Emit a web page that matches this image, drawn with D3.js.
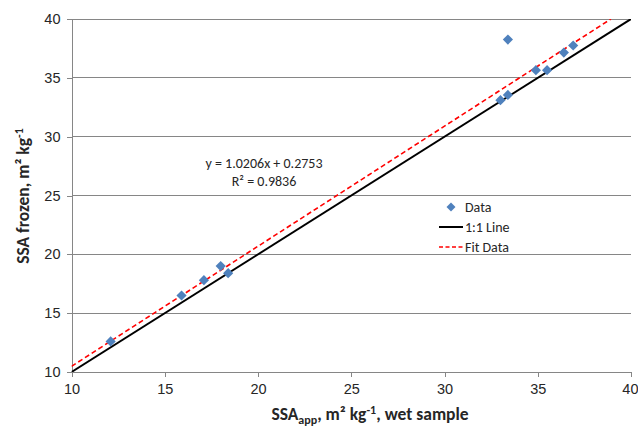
<!DOCTYPE html>
<html><head><meta charset="utf-8">
<script src="https://cdn.jsdelivr.net/npm/d3@7"></script>
<style>body{margin:0;background:#fff}svg{display:block;font-family:Carlito,Lato,"Liberation Sans",sans-serif}</style>
</head><body><svg id="c" width="638" height="426"></svg>
<script>
const dataX = [12.1, 15.9, 17.1, 18.0, 18.4, 33.0, 33.4, 33.4, 34.9, 35.5, 36.4, 36.9];
const dataY = [12.6, 16.5, 17.8, 19.0, 18.4, 33.1, 33.55, 38.25, 35.65, 35.65, 37.15, 37.75];
const xTicks = [10, 15, 20, 25, 30, 35, 40];
const yTicks = [10, 15, 20, 25, 30, 35, 40];
const fitSlope = 1.0206, fitIntercept = 0.2753, fitR2 = 0.9836;
const legendLabels = ["Data", "1:1 Line", "Fit Data"];

const svg = d3.select("#c");
const x = d3.scaleLinear().domain([10, 40]).range([71.5, 631]);
const y = d3.scaleLinear().domain([10, 40]).range([372, 19]);
const grey = "#868686", txt = "#262626";

// gridlines
svg.append("g").selectAll("line").data(yTicks.slice(1)).join("line")
  .attr("x1", x(10)).attr("x2", x(40)).attr("y1", d => y(d)).attr("y2", d => y(d))
  .attr("stroke", grey).attr("stroke-width", 1).attr("shape-rendering", "crispEdges");

// axes
const xa = svg.append("g").attr("transform", `translate(0,${y(10)})`)
  .call(d3.axisBottom(x).tickValues(xTicks).tickSize(5).tickPadding(7));
const ya = svg.append("g").attr("transform", `translate(${x(10)},0)`)
  .call(d3.axisLeft(y).tickValues(yTicks).tickSize(5).tickPadding(6));
[xa, ya].forEach(a => {
  a.select(".domain").attr("stroke", grey).attr("shape-rendering", "crispEdges");
  a.selectAll(".tick line").attr("stroke", grey).attr("shape-rendering", "crispEdges");
  a.selectAll("text").attr("fill", txt).style("font-size", "14.5px");
});
xa.selectAll(".tick text").filter(d => d === 40).attr("text-anchor", "end").attr("dx", "7");

const clip = svg.append("clipPath").attr("id", "pa").append("rect")
  .attr("x", x(10)).attr("y", y(40)).attr("width", x(40) - x(10)).attr("height", y(10) - y(40));
const plot = svg.append("g").attr("clip-path", "url(#pa)");

// 1:1 line
plot.append("line").attr("x1", x(10)).attr("y1", y(10)).attr("x2", x(40)).attr("y2", y(40))
  .attr("stroke", "#000").attr("stroke-width", 2);
// fit line
const xEnd = (40 - fitIntercept) / fitSlope;
plot.append("line").attr("x1", x(10)).attr("y1", y(fitSlope * 10 + fitIntercept))
  .attr("x2", x(xEnd)).attr("y2", y(40))
  .attr("stroke", "#ff0000").attr("stroke-width", 1.6).attr("stroke-dasharray", "5,3");

// points
const diamond = d3.symbol().type(d3.symbolSquare).size(52);
svg.append("g").selectAll("path").data(dataX.map((d, i) => [d, dataY[i]])).join("path")
  .attr("d", diamond)
  .attr("transform", d => `translate(${x(d[0])},${y(d[1])}) rotate(45)`)
  .attr("fill", "#4f81bd");

// equation
const eq = svg.append("text").attr("text-anchor", "middle").attr("fill", txt).style("font-size", "14px");
eq.append("tspan").attr("x", 264).attr("y", 168).text(`y = ${fitSlope}x + ${fitIntercept}`);
eq.append("tspan").attr("x", 264).attr("y", 186).text(`R² = ${fitR2}`);

// legend
const lg = svg.append("g").attr("transform", "translate(439,207)");
lg.append("path").attr("d", d3.symbol().type(d3.symbolSquare).size(40)).attr("transform", "translate(12,0) rotate(45)").attr("fill", "#4f81bd");
lg.append("line").attr("x1", 0).attr("x2", 24).attr("y1", 20).attr("y2", 20).attr("stroke", "#000").attr("stroke-width", 2);
lg.append("line").attr("x1", 0).attr("x2", 24).attr("y1", 40).attr("y2", 40).attr("stroke", "#ff0000").attr("stroke-width", 1.6).attr("stroke-dasharray", "4,2.5");
lg.selectAll("text").data(legendLabels).join("text")
  .attr("x", 26).attr("y", (d, i) => i * 20 + 5).attr("fill", txt).style("font-size", "14px").text(d => d);

// axis titles
const xt = svg.append("text").attr("x", 370).attr("y", 420).attr("text-anchor", "middle")
  .attr("fill", txt).style("font-size", "17.5px").style("font-weight", "bold");
xt.append("tspan").text("SSA");
xt.append("tspan").attr("dy", 4).style("font-size", "12px").text("app");
xt.append("tspan").attr("dy", -4).text(", m² kg");
xt.append("tspan").attr("dy", -6).style("font-size", "12px").text("-1");
xt.append("tspan").attr("dy", 6).text(", wet sample");

const yt = svg.append("text").attr("transform", "translate(29,196) rotate(-90)").attr("text-anchor", "middle")
  .attr("fill", txt).style("font-size", "17.5px").style("font-weight", "bold");
yt.append("tspan").text("SSA frozen, m² kg");
yt.append("tspan").attr("dy", -6).style("font-size", "12px").text("-1");
</script></body></html>
